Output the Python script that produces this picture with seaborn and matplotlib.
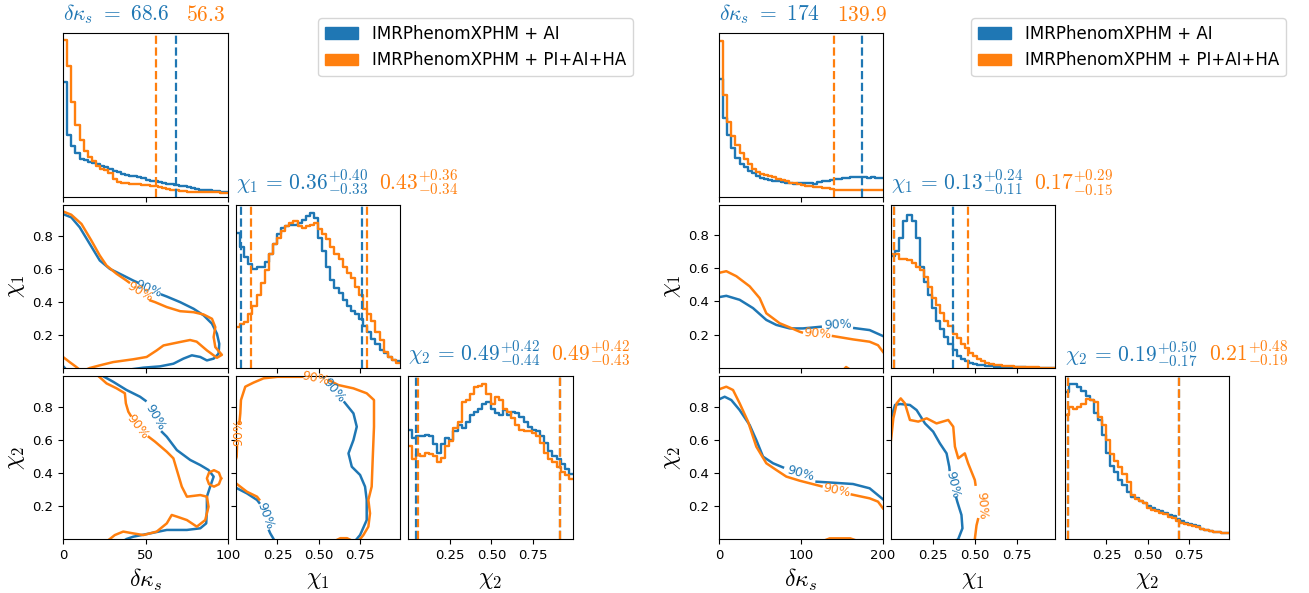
import numpy as np
import pandas as pd
import matplotlib
matplotlib.use("Agg")
import matplotlib.pyplot as plt
from matplotlib.patches import Patch
from matplotlib.offsetbox import AnchoredOffsetbox, HPacker, TextArea
import seaborn as sns

plt.rcParams["mathtext.fontset"] = "cm"

C_AI = "#1f77b4"
C_ALL = "#ff7f0e"
run_labels = ["IMRPhenomXPHM + AI", "IMRPhenomXPHM + PI+AI+HA"]
N = np.nan

# ---- event A (left corner) : 1D marginals, 40 bins, relative heights ----
kA_ai = [0.70, 0.38, 0.31, 0.27, 0.23, 0.225, 0.215, 0.21, 0.20, 0.19,
         0.18, 0.17, 0.16, 0.15, 0.14, 0.135, 0.13, 0.125, 0.12, 0.115,
         0.105, 0.10, 0.095, 0.09, 0.085, 0.08, 0.077, 0.075, 0.07, 0.065,
         0.06, 0.052, 0.047, 0.045, 0.043, 0.041, 0.038, 0.035, 0.032, 0.03]
kA_all = [0.955, 0.80, 0.58, 0.44, 0.35, 0.28, 0.245, 0.22, 0.19, 0.17,
          0.165, 0.145, 0.11, 0.09, 0.088, 0.085, 0.082, 0.08, 0.078, 0.076,
          0.072, 0.07, 0.066, 0.06, 0.055, 0.05, 0.045, 0.04, 0.036, 0.034,
          0.032, 0.03, 0.029, 0.03, 0.031, 0.03, 0.028, 0.028, 0.027, 0.027]
c1A_ai = [0.83, 0.74, 0.68, 0.64, 0.61, 0.62, 0.62, 0.65, 0.70, 0.76,
          0.82, 0.86, 0.87, 0.88, 0.88, 0.89, 0.91, 0.93, 0.95, 0.92,
          0.80, 0.72, 0.62, 0.54, 0.49, 0.46, 0.42, 0.38, 0.35, 0.33,
          0.30, 0.26, 0.22, 0.18, 0.15, 0.11, 0.09, 0.07, 0.05, 0.04]
c1A_all = [0.25, 0.27, 0.28, 0.33, 0.38, 0.45, 0.52, 0.60, 0.70, 0.76,
           0.80, 0.84, 0.87, 0.89, 0.90, 0.87, 0.86, 0.87, 0.88, 0.89,
           0.85, 0.82, 0.79, 0.74, 0.70, 0.67, 0.62, 0.58, 0.55, 0.50,
           0.45, 0.36, 0.33, 0.29, 0.22, 0.17, 0.10, 0.07, 0.05, 0.03]
c2A_ai = [0.67, 0.62, 0.63, 0.63, 0.64, 0.63, 0.58, 0.53, 0.58, 0.62,
          0.61, 0.66, 0.70, 0.68, 0.72, 0.76, 0.78, 0.80, 0.83, 0.84,
          0.80, 0.77, 0.76, 0.79, 0.76, 0.78, 0.77, 0.75, 0.72, 0.69,
          0.67, 0.66, 0.63, 0.59, 0.54, 0.51, 0.49, 0.46, 0.43, 0.40]
c2A_all = [0.57, 0.49, 0.52, 0.51, 0.53, 0.52, 0.51, 0.47, 0.50, 0.57,
           0.60, 0.68, 0.72, 0.84, 0.85, 0.89, 0.93, 0.94, 0.95, 0.89,
           0.83, 0.87, 0.85, 0.80, 0.78, 0.74, 0.70, 0.67, 0.66, 0.66,
           0.65, 0.63, 0.59, 0.53, 0.49, 0.47, 0.44, 0.41, 0.39, 0.37]

# ---- event B (right corner) ----
kB_ai = [0.72, 0.48, 0.38, 0.30, 0.24, 0.20, 0.18, 0.16, 0.145, 0.13,
         0.115, 0.11, 0.105, 0.10, 0.095, 0.09, 0.085, 0.083, 0.082, 0.085,
         0.087, 0.085, 0.083, 0.082, 0.09, 0.095, 0.10, 0.105, 0.11, 0.112,
         0.115, 0.118, 0.12, 0.122, 0.124, 0.12, 0.118, 0.12, 0.118, 0.115]
kB_all = [0.95, 0.62, 0.46, 0.37, 0.32, 0.27, 0.23, 0.20, 0.17, 0.15,
          0.14, 0.135, 0.13, 0.12, 0.11, 0.105, 0.095, 0.088, 0.083, 0.078,
          0.073, 0.07, 0.066, 0.063, 0.06, 0.056, 0.052, 0.048, 0.045, 0.043,
          0.042, 0.041, 0.041, 0.042, 0.043, 0.044, 0.043, 0.042, 0.041, 0.040]
c1B_ai = [0.69, 0.72, 0.80, 0.90, 0.94, 0.90, 0.80, 0.62, 0.53, 0.45,
          0.37, 0.29, 0.24, 0.19, 0.15, 0.11, 0.075, 0.055, 0.045, 0.032,
          0.025, 0.02, 0.017, 0.012, 0.01, 0.009, 0.008, 0.007, 0.006, 0.005,
          0.005, 0.004, 0.004, 0.003, 0.003, 0.002, 0.002, 0.002, 0.001, 0.001]
c1B_all = [0.70, 0.70, 0.67, 0.67, 0.66, 0.645, 0.62, 0.60, 0.56, 0.50,
           0.43, 0.385, 0.34, 0.29, 0.26, 0.21, 0.185, 0.15, 0.125, 0.095,
           0.072, 0.055, 0.045, 0.031, 0.025, 0.02, 0.018, 0.014, 0.012, 0.01,
           0.008, 0.007, 0.006, 0.005, 0.004, 0.004, 0.003, 0.003, 0.002, 0.002]
c2B_ai = [0.90, 0.95, 0.95, 0.93, 0.91, 0.88, 0.85, 0.77, 0.73, 0.64,
          0.53, 0.45, 0.41, 0.36, 0.33, 0.29, 0.26, 0.25, 0.235, 0.22,
          0.20, 0.19, 0.175, 0.17, 0.16, 0.145, 0.14, 0.12, 0.11, 0.10,
          0.09, 0.085, 0.08, 0.06, 0.055, 0.05, 0.045, 0.04, 0.037, 0.035]
c2B_all = [0.76, 0.81, 0.80, 0.81, 0.83, 0.86, 0.855, 0.84, 0.75, 0.70,
           0.61, 0.52, 0.48, 0.44, 0.40, 0.35, 0.27, 0.245, 0.235, 0.22,
           0.19, 0.18, 0.17, 0.16, 0.155, 0.135, 0.13, 0.11, 0.10, 0.095,
           0.085, 0.08, 0.075, 0.06, 0.055, 0.05, 0.045, 0.04, 0.038, 0.035]

# ---- 90% contours (x, y); NaN = break for label ----
kc1A_ai = [(0, 0.935), (5, 0.915), (10.1, 0.855), (16.2, 0.754), (22.3, 0.653), (28.4, 0.602),
           (36.5, 0.562), (42.6, 0.531), (45, 0.52), (N, N), (60, 0.445), (62.9, 0.434),
           (71, 0.40), (79.1, 0.36), (85.2, 0.32), (90.3, 0.269), (93.3, 0.208), (94.7, 0.147),
           (94.3, 0.087), (91.3, 0.057), (87.2, 0.046), (83.2, 0.067), (78.1, 0.077), (73, 0.057),
           (66.9, 0.026), (58.8, 0.01), (48.7, 0.002), (40, -0.01), (N, N), (0, 0.012), (2, -0.01)]
kc1A_all = [(0, 0.951), (5, 0.931), (11.2, 0.875), (17.2, 0.774), (22.3, 0.683), (26.4, 0.622),
            (32.5, 0.572), (38.5, 0.531), (40, 0.52), (N, N), (53, 0.41), (55.8, 0.40),
            (62.9, 0.37), (71, 0.345), (79.1, 0.339), (85.2, 0.325), (90.3, 0.299), (92.3, 0.248),
            (91.3, 0.188), (92.3, 0.127), (96.3, 0.08), (93.3, 0.062), (87.2, 0.107), (81, 0.16),
            (77, 0.17), (71, 0.158), (60.9, 0.137), (56.8, 0.107), (50.7, 0.067), (42.6, 0.053),
            (30.4, 0.036), (22.3, 0.016), (16.2, 0), (14, -0.01), (N, N),
            (0, 0.067), (4, 0.036), (8.1, 0.006), (10, -0.01)]
kc2A_ai = [(22.3, 1.0), (30.4, 0.955), (38.5, 0.905), (46.7, 0.864), (50, 0.84), (N, N),
           (60, 0.65), (62.9, 0.621), (69, 0.54), (77.1, 0.48), (83.2, 0.449), (88.2, 0.419),
           (91.3, 0.379), (89.2, 0.318), (87.2, 0.257), (87.2, 0.176), (86.8, 0.095), (83.2, 0.065),
           (75.1, 0.055), (62.9, 0.055), (52.7, 0.034), (42.6, 0.014), (38.5, 0), (37, -0.01)]
kc2A_all = [(20.3, 1.0), (26.4, 0.945), (32.5, 0.915), (37.5, 0.885), (38.1, 0.824), (39.6, 0.773),
            (41, 0.75), (N, N), (52, 0.62), (55.8, 0.591), (62.9, 0.53), (66.9, 0.49), (69, 0.419),
            (72, 0.318), (75.1, 0.257), (83.2, 0.267), (87.2, 0.257), (88.2, 0.196), (86.2, 0.115),
            (81.1, 0.075), (75.1, 0.115), (69, 0.136), (65.9, 0.146), (62.9, 0.095), (56.8, 0.045),
            (48.7, 0.024), (42.6, 0.034), (36.5, 0.045), (31.4, 0.024), (28.4, 0), (27, -0.01),
            (N, N), (95.8, 0.368), (94.5, 0.403), (91.5, 0.418), (88.5, 0.403), (87.2, 0.368),
            (88.5, 0.333), (91.5, 0.318), (94.5, 0.333), (95.8, 0.368)]
c12A_ai = [(0.50, 1.0), (0.53, 0.98), (N, N), (0.655, 0.83), (0.709, 0.763), (0.729, 0.682),
           (0.709, 0.601), (0.679, 0.52), (0.699, 0.439), (0.749, 0.389), (0.779, 0.318),
           (0.789, 0.237), (0.789, 0.115), (0.749, 0.024), (0.729, 0), (0.72, -0.01), (N, N),
           (-0.01, 0.31), (0.006, 0.308), (0.066, 0.277), (0.127, 0.237), (0.14, 0.22), (N, N),
           (0.2, 0.05), (0.207, 0.034), (0.227, 0), (0.23, -0.01)]
c12A_all = [(0.02, 0.70), (0.026, 0.763), (0.03, 0.844), (0.056, 0.925), (0.106, 0.95),
            (0.167, 0.976), (0.25, 0.985), (0.40, 0.985), (N, N), (0.56, 0.965), (0.618, 0.935),
            (0.709, 0.915), (0.789, 0.885), (0.833, 0.844), (0.833, 0.682), (0.825, 0.48),
            (0.819, 0.318), (0.799, 0.237), (0.809, 0.156), (0.799, 0.075), (0.769, 0.024),
            (0.75, 0.0), (0.74, -0.01), (N, N), (0.006, 0.56), (0.004, 0.5), (-0.01, 0.45),
            (N, N), (-0.01, 0.345), (0.0, 0.338), (0.066, 0.287), (0.127, 0.257), (0.14, 0.24),
            (N, N), (0.60, -0.01), (0.63, 0.005), (0.67, 0.005), (0.70, -0.01)]

kc1B_ai = [(0, 0.426), (8.9, 0.434), (25.2, 0.41), (41.5, 0.36), (57.7, 0.289), (69.9, 0.259),
           (86.2, 0.238), (102.4, 0.238), (124, 0.248), (N, N), (165, 0.24), (183.7, 0.228),
           (200, 0.192)]
kc1B_all = [(0, 0.572), (8.9, 0.582), (21.1, 0.552), (37.4, 0.491), (49.6, 0.42), (57.7, 0.329),
            (74, 0.269), (86.2, 0.244), (98.4, 0.218), (101, 0.214), (N, N), (139, 0.192),
            (163.4, 0.172), (183.7, 0.158), (193.9, 0.137), (200, 0.097), (N, N),
            (152, -0.01), (155, 0.006), (160, -0.01)]
kc2B_ai = [(0, 0.848), (6.9, 0.864), (15, 0.844), (25.2, 0.783), (37.4, 0.692), (45.5, 0.601),
           (53.7, 0.5), (65.9, 0.46), (78, 0.435), (N, N), (119, 0.348), (139, 0.342),
           (163.4, 0.334), (183.7, 0.308), (200, 0.241)]
kc2B_all = [(0, 0.909), (8.9, 0.925), (17.1, 0.905), (25.2, 0.824), (35.4, 0.713), (45.5, 0.561),
            (57.7, 0.46), (69.9, 0.419), (82.1, 0.379), (98.4, 0.354), (118.7, 0.328), (125, 0.32),
            (N, N), (162, 0.27), (183.7, 0.247), (193.9, 0.227), (200, 0.186), (N, N),
            (128, -0.01), (135, 0.004), (160, 0.004), (168, -0.01)]
c12B_ai = [(0, 0.733), (0.024, 0.814), (0.054, 0.82), (0.113, 0.814), (0.153, 0.783),
           (0.203, 0.702), (0.252, 0.652), (0.292, 0.581), (0.332, 0.52), (0.348, 0.439),
           (0.35, 0.42), (N, N), (0.39, 0.25), (0.396, 0.227), (0.421, 0.146), (0.427, 0.065),
           (0.402, 0), (0.39, -0.01)]
c12B_all = [(0, 0.601), (0.014, 0.733), (0.034, 0.824), (0.058, 0.854), (0.083, 0.824),
            (0.113, 0.723), (0.163, 0.713), (0.213, 0.733), (0.272, 0.702), (0.342, 0.723),
            (0.372, 0.682), (0.382, 0.561), (0.402, 0.49), (0.441, 0.52), (0.461, 0.459),
            (0.501, 0.358), (0.505, 0.33), (N, N), (0.52, 0.12), (0.511, 0.083), (0.501, 0),
            (0.5, -0.01)]

# ---- summary values (median, -err, +err) ----
kA_med = [68.6, 56.3]
c1A_med = [(0.36, 0.33, 0.40), (0.43, 0.34, 0.36)]
c2A_med = [(0.49, 0.44, 0.42), (0.49, 0.43, 0.42)]
kB_med = [174, 139.9]
c1B_med = [(0.13, 0.11, 0.24), (0.17, 0.15, 0.29)]
c2B_med = [(0.19, 0.17, 0.50), (0.21, 0.19, 0.48)]

W, H = 1309, 593
fig = plt.figure(figsize=(W / 100, H / 100), dpi=100)

TICK_FS = 9.5
LABEL_FS = 17
TITLE_FS = 15.5


def add_ax(xs, ys):
    x0, x1 = xs
    y0, y1 = ys
    return fig.add_axes([x0 / W, 1 - y1 / H, (x1 - x0) / W, (y1 - y0) / H])


def hist(ax, lo, hi, heights, color):
    nb = len(heights)
    width = (hi - lo) / nb
    df = pd.DataFrame({"x": [lo + (i + 0.5) * width for i in range(nb)], "w": heights})
    sns.histplot(data=df, x="x", weights="w", bins=nb, binrange=(lo, hi), element="step",
                 fill=False, color=color, linewidth=1.7, ax=ax)
    ax.set_ylabel("")
    ax.set_ylim(0, 1)
    ax.set_xlim(lo, hi)
    ax.set_yticks([])


def contour(ax, pts, color):
    a = np.array(pts, dtype=float)
    ax.plot(a[:, 0], a[:, 1], color=color, lw=1.8)


def clabel(ax, x, y, rot, color):
    ax.text(x, y, "90%", color=color, fontsize=9, rotation=rot,
            ha="center", va="center", rotation_mode="anchor")


def title(ax, s_ai, s_all, sep=8):
    box = HPacker(children=[TextArea(s_ai, textprops=dict(color=C_AI, fontsize=TITLE_FS)),
                            TextArea(s_all, textprops=dict(color=C_ALL, fontsize=TITLE_FS))],
                  align="baseline", pad=0, sep=sep)
    anc = AnchoredOffsetbox(loc="lower left", child=box, pad=0, borderpad=0, frameon=False,
                            bbox_to_anchor=(0, 1.04), bbox_transform=ax.transAxes)
    ax.add_artist(anc)


def fmt_err(name, v):
    m, lo, hi = v
    pre = name + r"\,=\," if name else ""
    return r"$%s%.2f^{+%.2f}_{-%.2f}$" % (pre, m, hi, lo)


def corner(cols, rows, kmax, kticks, c1max, hk, h1, h2, cont, lbls, kmed, c1med, c2med):
    (k_ai, k_all), (c1_ai, c1_all), (c2_ai, c2_all) = hk, h1, h2
    chi_ticks = [0.25, 0.5, 0.75]
    y_ticks = [0.2, 0.4, 0.6, 0.8]
    axs = {}
    for r in range(3):
        for c in range(r + 1):
            ax = add_ax(cols[c], rows[r])
            ax.tick_params(labelsize=TICK_FS)
            axs[r, c] = ax
    lims = [(0, kmax), (0, c1max), (0, 0.99)]
    xt = [kticks, chi_ticks, chi_ticks]
    names = [r"$\delta\kappa_s$", r"$\chi_1$", r"$\chi_2$"]

    hist(axs[0, 0], 0, kmax, k_ai, C_AI)
    hist(axs[0, 0], 0, kmax, k_all, C_ALL)
    hist(axs[1, 1], 0, c1max, c1_ai, C_AI)
    hist(axs[1, 1], 0, c1max, c1_all, C_ALL)
    hist(axs[2, 2], 0, 0.99, c2_ai, C_AI)
    hist(axs[2, 2], 0, 0.99, c2_all, C_ALL)

    axs[0, 0].axvline(kmed[0], color=C_AI, ls="--", lw=1.6)
    axs[0, 0].axvline(kmed[1], color=C_ALL, ls="--", lw=1.6)
    for ax, meds in ((axs[1, 1], c1med), (axs[2, 2], c2med)):
        for (m, lo, hi), col in zip(meds, (C_AI, C_ALL)):
            ax.axvline(m - lo, color=col, ls="--", lw=1.6)
            ax.axvline(m + hi, color=col, ls="--", lw=1.6)

    for key, (pa, pb) in cont.items():
        contour(axs[key], pa, C_AI)
        contour(axs[key], pb, C_ALL)
    for key, x, y, rot, col in lbls:
        clabel(axs[key], x, y, rot, col)

    for (r, c), ax in axs.items():
        ax.set_xlim(*lims[c])
        ax.set_xticks(xt[c])
        if r != c:
            ax.set_ylim(*lims[r])
            ax.set_yticks(y_ticks)
            if c == 0:
                ax.set_ylabel(names[r], fontsize=LABEL_FS)
            else:
                ax.set_yticklabels([])
        if r == 2:
            ax.set_xlabel(names[c], fontsize=LABEL_FS)
        else:
            ax.set_xticklabels([])
            ax.set_xlabel("")

    title(axs[0, 0], r"$\delta\kappa_s\ =\ %g$" % kmed[0], r"$%g$" % kmed[1], sep=12)
    title(axs[1, 1], fmt_err(r"\chi_1", c1med[0]), fmt_err("", c1med[1]))
    title(axs[2, 2], fmt_err(r"\chi_2", c2med[0]), fmt_err("", c2med[1]))
    return axs


rows_px = [(33, 197), (205, 368), (376, 539)]

corner([(63, 228), (236, 400), (408, 573)], rows_px, 100, [0, 50, 100], 0.99,
       (kA_ai, kA_all), (c1A_ai, c1A_all), (c2A_ai, c2A_all),
       {(1, 0): (kc1A_ai, kc1A_all), (2, 0): (kc2A_ai, kc2A_all), (2, 1): (c12A_ai, c12A_all)},
       [((1, 0), 52, 0.48, -22, C_AI), ((1, 0), 46.5, 0.46, -30, C_ALL),
        ((2, 0), 56, 0.74, -60, C_AI), ((2, 0), 45.5, 0.68, -52, C_ALL),
        ((2, 1), 0.59, 0.90, -50, C_AI), ((2, 1), 0.48, 0.975, -12, C_ALL),
        ((2, 1), 0.175, 0.14, -70, C_AI), ((2, 1), 0.016, 0.65, 90, C_ALL)],
       kA_med, c1A_med, c2A_med)

corner([(719, 883), (891, 1055), (1065, 1229)], rows_px, 200, [0, 100, 200], 0.98,
       (kB_ai, kB_all), (c1B_ai, c1B_all), (c2B_ai, c2B_all),
       {(1, 0): (kc1B_ai, kc1B_all), (2, 0): (kc2B_ai, kc2B_all), (2, 1): (c12B_ai, c12B_all)},
       [((1, 0), 145, 0.258, 3, C_AI), ((1, 0), 120, 0.205, -5, C_ALL),
        ((2, 0), 99, 0.40, -16, C_AI), ((2, 0), 143, 0.295, -12, C_ALL),
        ((2, 1), 0.37, 0.33, -77, C_AI), ((2, 1), 0.545, 0.205, -86, C_ALL)],
       kB_med, c1B_med, c2B_med)

handles = [Patch(color=C_AI), Patch(color=C_ALL)]
fig.legend(handles, run_labels, loc="upper right", bbox_to_anchor=(641 / W, 1 - 10 / H),
           fontsize=12)
fig.legend(handles, run_labels, loc="upper right", bbox_to_anchor=(1294 / W, 1 - 10 / H),
           fontsize=12)

fig.savefig("out.png", dpi=100)
